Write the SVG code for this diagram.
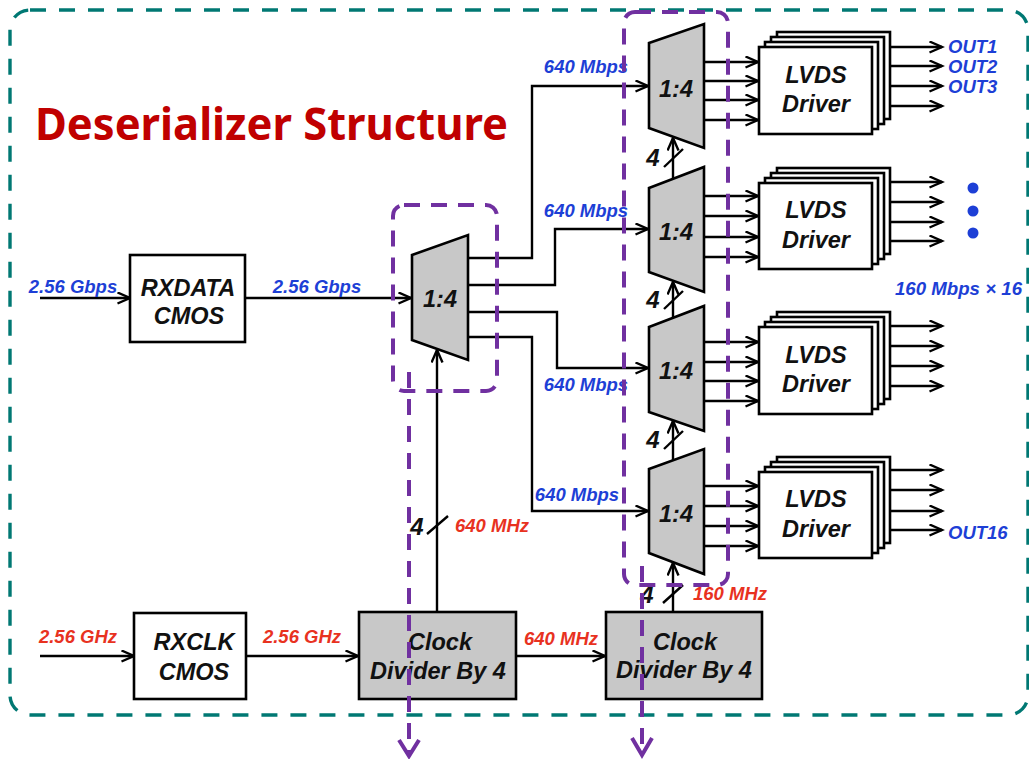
<svg xmlns="http://www.w3.org/2000/svg" width="1029" height="759" viewBox="0 0 1029 759">
<defs>
<marker id="ah" markerUnits="userSpaceOnUse" markerWidth="16" markerHeight="14" refX="13" refY="6" orient="auto">
<path d="M0.5,0.5 L13,6 L0.5,11.5" fill="none" stroke="#000" stroke-width="2.4"/>
</marker>
<style>
.t{font-family:"Liberation Sans",Arial,sans-serif;font-weight:bold;font-style:italic;}
.k{fill:#111;font-size:23.5px;text-anchor:middle;}
.b{fill:#1d3fd6;font-size:18.5px;}
.r{fill:#e8321f;font-size:18.5px;}
.n{fill:#111;font-size:24px;text-anchor:middle;}
.box{fill:#fff;stroke:#000;stroke-width:2.6;}
.gbox{fill:#c8c8c8;stroke:#000;stroke-width:2.6;}
.mux{fill:#c8c8c8;stroke:#000;stroke-width:2.6;stroke-linejoin:miter;}
.w{fill:none;stroke:#000;stroke-width:2.4;}
.a{fill:none;stroke:#000;stroke-width:2.4;marker-end:url(#ah);}
.pd{fill:none;stroke:#7030a0;stroke-width:4;stroke-dasharray:16 11;}
.pa{fill:none;stroke:#7030a0;stroke-width:4;}
</style>
</defs>
<rect width="1029" height="759" fill="#fff"/>

<!-- outer boundary -->
<rect id="frame" x="10" y="10" width="1018" height="705" rx="20" fill="none" stroke="#007873" stroke-width="3.4" stroke-dasharray="16 13"/>
<text id="title" x="35" y="140" font-family="'Noto Sans','Open Sans',sans-serif" font-weight="bold" font-size="45" fill="#c00000" textLength="473" lengthAdjust="spacingAndGlyphs">Deserializer Structure</text>

<!-- connectors -->
<g id="connectors">
<path class="a" d="M40,298 H130"/>
<path class="a" d="M245,298 H411"/>
<path class="a" d="M468,258 H532 V86 H648"/>
<path class="a" d="M468,285 H555 V229 H648"/>
<path class="a" d="M468,312 H557 V368 H648"/>
<path class="a" d="M468,337 H532 V511 H648"/>
<!-- mux -> LVDS -->
<path class="a" d="M704,62 H758"/><path class="a" d="M704,81 H758"/><path class="a" d="M704,100 H758"/><path class="a" d="M704,120 H758"/>
<path class="a" d="M704,196 H758"/><path class="a" d="M704,216 H758"/><path class="a" d="M704,237 H758"/><path class="a" d="M704,257 H758"/>
<path class="a" d="M704,342 H758"/><path class="a" d="M704,362 H758"/><path class="a" d="M704,381 H758"/><path class="a" d="M704,401 H758"/>
<path class="a" d="M704,486 H758"/><path class="a" d="M704,506 H758"/><path class="a" d="M704,526 H758"/><path class="a" d="M704,546 H758"/>
<!-- LVDS outputs -->
<path class="a" d="M890,47 H942"/><path class="a" d="M884,66 H942"/><path class="a" d="M878,86 H942"/><path class="a" d="M872,106 H942"/>
<path class="a" d="M890,182 H942"/><path class="a" d="M884,202 H942"/><path class="a" d="M878,222 H942"/><path class="a" d="M872,241 H942"/>
<path class="a" d="M890,326 H942"/><path class="a" d="M884,346 H942"/><path class="a" d="M878,366 H942"/><path class="a" d="M872,386 H942"/>
<path class="a" d="M890,470 H942"/><path class="a" d="M884,490 H942"/><path class="a" d="M878,511 H942"/><path class="a" d="M872,530 H942"/>
<!-- clock path -->
<path class="a" d="M40,656 H134"/>
<path class="a" d="M246,656 H358"/>
<path class="a" d="M516,656 H605"/>
<path class="a" d="M437,612 V350"/>
<path class="w" d="M427,534 L448,516"/>
<path class="a" d="M673,612 V563"/>
<path class="w" d="M663,603 L683,585"/>
<path class="a" d="M673,460 V421"/>
<path class="w" d="M664,449 L683,431"/>
<path class="a" d="M673,318 V282"/>
<path class="w" d="M664,309 L683,291"/>
<path class="a" d="M673,179 V138"/>
<path class="w" d="M664,167 L683,149"/>
</g>

<!-- left data path -->
<g id="rxdata"><rect class="box" x="130" y="255" width="115" height="87"/>
<text class="t k" x="188" y="296">RXDATA</text><text class="t k" x="189" y="324">CMOS</text></g>
<g id="mux0"><polygon class="mux" points="412,255 468,235 468,360 412,340"/><text class="t k" x="440" y="307">1:4</text></g>

<g id="mux1"><polygon class="mux" points="649,43 704,24 704,148 649,128"/><text class="t k" x="676" y="97">1:4</text></g>
<g id="mux2"><polygon class="mux" points="649,188 704,167 704,292 649,272"/><text class="t k" x="676" y="240">1:4</text></g>
<g id="mux3"><polygon class="mux" points="649,327 704,306 704,431 649,412"/><text class="t k" x="676" y="379">1:4</text></g>
<g id="mux4"><polygon class="mux" points="649,469 704,449 704,574 649,553"/><text class="t k" x="676" y="522">1:4</text></g>

<g id="lvds1">
<rect class="box" x="777" y="32" width="113" height="87"/><rect class="box" x="771" y="37" width="113" height="87"/><rect class="box" x="765" y="42" width="113" height="87"/><rect class="box" x="759" y="47" width="113" height="87"/>
<text class="t k" x="816" y="83">LVDS</text><text class="t k" x="816" y="112">Driver</text></g>
<g id="lvds2">
<rect class="box" x="777" y="168" width="113" height="86"/><rect class="box" x="771" y="173" width="113" height="86"/><rect class="box" x="765" y="178" width="113" height="86"/><rect class="box" x="759" y="183" width="113" height="86"/>
<text class="t k" x="816" y="218">LVDS</text><text class="t k" x="816" y="248">Driver</text></g>
<g id="lvds3">
<rect class="box" x="777" y="312" width="113" height="87"/><rect class="box" x="771" y="317" width="113" height="87"/><rect class="box" x="765" y="322" width="113" height="87"/><rect class="box" x="759" y="327" width="113" height="87"/>
<text class="t k" x="816" y="363">LVDS</text><text class="t k" x="816" y="392">Driver</text></g>
<g id="lvds4">
<rect class="box" x="777" y="457" width="113" height="86"/><rect class="box" x="771" y="462" width="113" height="86"/><rect class="box" x="765" y="467" width="113" height="86"/><rect class="box" x="759" y="472" width="113" height="86"/>
<text class="t k" x="816" y="507">LVDS</text><text class="t k" x="816" y="537">Driver</text></g>

<g id="rxclk"><rect class="box" x="134" y="613" width="112" height="86"/>
<text class="t k" x="194" y="650">RXCLK</text><text class="t k" x="194" y="680">CMOS</text></g>
<g id="clkdiv1"><rect class="gbox" x="359" y="612" width="157" height="87"/>
<text class="t k" x="440" y="650">Clock</text><text class="t k" x="438" y="679">Divider By 4</text></g>
<g id="clkdiv2"><rect class="gbox" x="606" y="612" width="156" height="87"/>
<text class="t k" x="685" y="650">Clock</text><text class="t k" x="684" y="678">Divider By 4</text></g>

<!-- labels -->
<g id="labels">
<text class="t b" x="73" y="293" text-anchor="middle">2.56 Gbps</text>
<text class="t b" x="317" y="293" text-anchor="middle">2.56 Gbps</text>
<text class="t b" x="586" y="73" text-anchor="middle">640 Mbps</text>
<text class="t b" x="586" y="217" text-anchor="middle">640 Mbps</text>
<text class="t b" x="586" y="391" text-anchor="middle">640 Mbps</text>
<text class="t b" x="577" y="501" text-anchor="middle">640 Mbps</text>
<text class="t b" x="948" y="53">OUT1</text>
<text class="t b" x="948" y="73">OUT2</text>
<text class="t b" x="948" y="93">OUT3</text>
<text class="t b" x="948" y="539">OUT16</text>
<text class="t b" x="895" y="295" textLength="127" lengthAdjust="spacingAndGlyphs">160 Mbps × 16</text>
<circle cx="973" cy="188" r="5.5" fill="#1d3fd6"/><circle cx="973" cy="211" r="5.5" fill="#1d3fd6"/><circle cx="973" cy="233" r="5.5" fill="#1d3fd6"/>
<text class="t r" x="78" y="643" text-anchor="middle">2.56 GHz</text>
<text class="t r" x="302" y="643" text-anchor="middle">2.56 GHz</text>
<text class="t r" x="561" y="645" text-anchor="middle">640 MHz</text>
<text class="t r" x="455" y="532">640 MHz</text>
<text class="t r" x="693" y="600">160 MHz</text>
<text class="t n" x="417" y="535">4</text>
<text class="t n" x="647" y="603">4</text>
<text class="t n" x="653" y="448">4</text>
<text class="t n" x="653" y="308">4</text>
<text class="t n" x="653" y="166">4</text>
</g>

<!-- purple highlight boxes -->
<g id="highlight1">
<rect class="pd" x="393" y="205" width="104" height="186" rx="11"/>
<path class="pd" d="M409,372 V752"/>
<path class="pa" d="M399,740 L409,756 L419,740"/>
</g>
<g id="highlight2">
<rect class="pd" x="624" y="12" width="104" height="573" rx="11"/>
<path class="pd" d="M642,566 V752"/>
<path class="pa" d="M632,738 L642,755 L652,738"/>
</g>
</svg>
